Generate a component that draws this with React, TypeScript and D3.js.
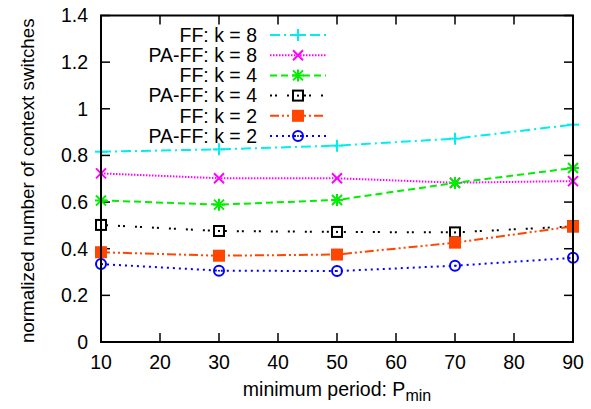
import React from 'react';
import * as d3 from 'd3';

const periods = [10, 30, 50, 70, 90];
const ff8 = [0.816, 0.826, 0.842, 0.872, 0.932];
const paff8 = [0.723, 0.702, 0.702, 0.683, 0.690];
const ff4 = [0.607, 0.589, 0.609, 0.682, 0.746];
const paff4 = [0.502, 0.476, 0.472, 0.470, 0.496];
const ff2 = [0.385, 0.370, 0.375, 0.426, 0.496];
const paff2 = [0.334, 0.306, 0.304, 0.327, 0.361];
const xTicks = [10, 20, 30, 40, 50, 60, 70, 80, 90];
const yTicks = [0, 0.2, 0.4, 0.6, 0.8, 1, 1.2, 1.4];

const series = [
  { name: 'FF: k = 8', values: ff8, color: '#00eeee', dash: '10,4,2,4', marker: 'plus' },
  { name: 'PA-FF: k = 8', values: paff8, color: '#ff00ff', dash: '1.5,1.5', marker: 'cross' },
  { name: 'FF: k = 4', values: ff4, color: '#00ee00', dash: '7,4', marker: 'star' },
  { name: 'PA-FF: k = 4', values: paff4, color: '#000000', dash: '2,3,2,10', marker: 'boxdot' },
  { name: 'FF: k = 2', values: ff2, color: '#ff4500', dash: '9,3,2,3,2,3', marker: 'box' },
  { name: 'PA-FF: k = 2', values: paff2, color: '#0000ff', dash: '2,4', marker: 'circle' },
];

const W = 591;
const H = 409;
const m = { left: 101, right: 573, top: 15.5, bottom: 342 };
const font = 'Liberation Sans, Arial, Helvetica, sans-serif';

function Marker({ type, x, y, color }: { type: string; x: number; y: number; color: string }) {
  const s = 6;
  const sw = 2;
  if (type === 'plus')
    return (
      <g stroke={color} strokeWidth={sw}>
        <line x1={x - s} x2={x + s} y1={y} y2={y} />
        <line x1={x} x2={x} y1={y - s} y2={y + s} />
      </g>
    );
  if (type === 'cross')
    return (
      <g stroke={color} strokeWidth={sw}>
        <line x1={x - 5} x2={x + 5} y1={y - 5} y2={y + 5} />
        <line x1={x - 5} x2={x + 5} y1={y + 5} y2={y - 5} />
      </g>
    );
  if (type === 'star')
    return (
      <g stroke={color} strokeWidth={sw}>
        <line x1={x - s} x2={x + s} y1={y} y2={y} />
        <line x1={x} x2={x} y1={y - s} y2={y + s} />
        <line x1={x - 5} x2={x + 5} y1={y - 5} y2={y + 5} />
        <line x1={x - 5} x2={x + 5} y1={y + 5} y2={y - 5} />
      </g>
    );
  if (type === 'boxdot')
    return (
      <g>
        <rect x={x - 5} y={y - 5} width={10} height={10} fill="white" stroke={color} strokeWidth={sw} />
        <rect x={x - 1} y={y - 1} width={2} height={2} fill={color} />
      </g>
    );
  if (type === 'box')
    return <rect x={x - 6} y={y - 6} width={12} height={12} fill={color} />;
  return (
    <g>
      <circle cx={x} cy={y} r={5} fill="none" stroke={color} strokeWidth={sw} />
      <circle cx={x} cy={y} r={1} fill={color} />
    </g>
  );
}

export default function App() {
  const x = d3.scaleLinear().domain([10, 90]).range([m.left, m.right]);
  const y = d3.scaleLinear().domain([0, 1.4]).range([m.bottom, m.top]);
  const line = d3
    .line<number>()
    .x((_, i) => x(periods[i]))
    .y((d) => y(d));

  const legendY = (i: number) => 35 + i * 20.2;

  return (
    <svg width={W} height={H} style={{ position: 'absolute', left: 0, top: 0, background: 'white' }}>
      <rect x={0} y={0} width={W} height={H} fill="white" />
      {/* ticks */}
      <g stroke="black" strokeWidth={1.5}>
        {xTicks.map((t) => (
          <g key={'xt' + t}>
            <line x1={x(t)} x2={x(t)} y1={m.bottom} y2={m.bottom - 9} />
            <line x1={x(t)} x2={x(t)} y1={m.top} y2={m.top + 9} />
          </g>
        ))}
        {yTicks.map((t) => (
          <g key={'yt' + t}>
            <line x1={m.left} x2={m.left + 9} y1={y(t)} y2={y(t)} />
            <line x1={m.right} x2={m.right - 9} y1={y(t)} y2={y(t)} />
          </g>
        ))}
      </g>
      <g fontFamily={font} fontSize={19.5} fill="black">
        {xTicks.map((t) => (
          <text key={'xl' + t} x={x(t)} y={369} textAnchor="middle">
            {t}
          </text>
        ))}
        {yTicks.map((t) => (
          <text key={'yl' + t} x={88} y={y(t)} dy="0.35em" textAnchor="end">
            {t}
          </text>
        ))}
        <text x={(m.left + m.right) / 2} y={396} textAnchor="middle">
          minimum period: P<tspan dy={5} fontSize={16}>min</tspan>
        </text>
        <text transform={`translate(34,${(m.top + m.bottom) / 2 + 2}) rotate(-90)`} textAnchor="middle" fontSize={18.8}>
          normalized number of context switches
        </text>
      </g>
      {/* legend */}
      {series.map((s, i) => (
        <g key={'lg' + s.name}>
          <text x={257} y={legendY(i)} dy="0.35em" textAnchor="end" fontFamily={font} fontSize={19.5}>
            {s.name}
          </text>
          <line x1={270} x2={326} y1={legendY(i)} y2={legendY(i)} stroke={s.color} strokeWidth={2} strokeDasharray={s.dash} />
          <Marker type={s.marker} x={298} y={legendY(i)} color={s.color} />
        </g>
      ))}
      {/* series */}
      {series.map((s) => (
        <g key={'sr' + s.name}>
          <path d={line(s.values) || ''} fill="none" stroke={s.color} strokeWidth={2} strokeDasharray={s.dash} />
          {s.values.map((v, i) => (
            <Marker key={i} type={s.marker} x={x(periods[i])} y={y(v)} color={s.color} />
          ))}
        </g>
      ))}
      <rect x={m.left} y={m.top} width={m.right - m.left} height={m.bottom - m.top} fill="none" stroke="black" strokeWidth={2} />
    </svg>
  );
}
